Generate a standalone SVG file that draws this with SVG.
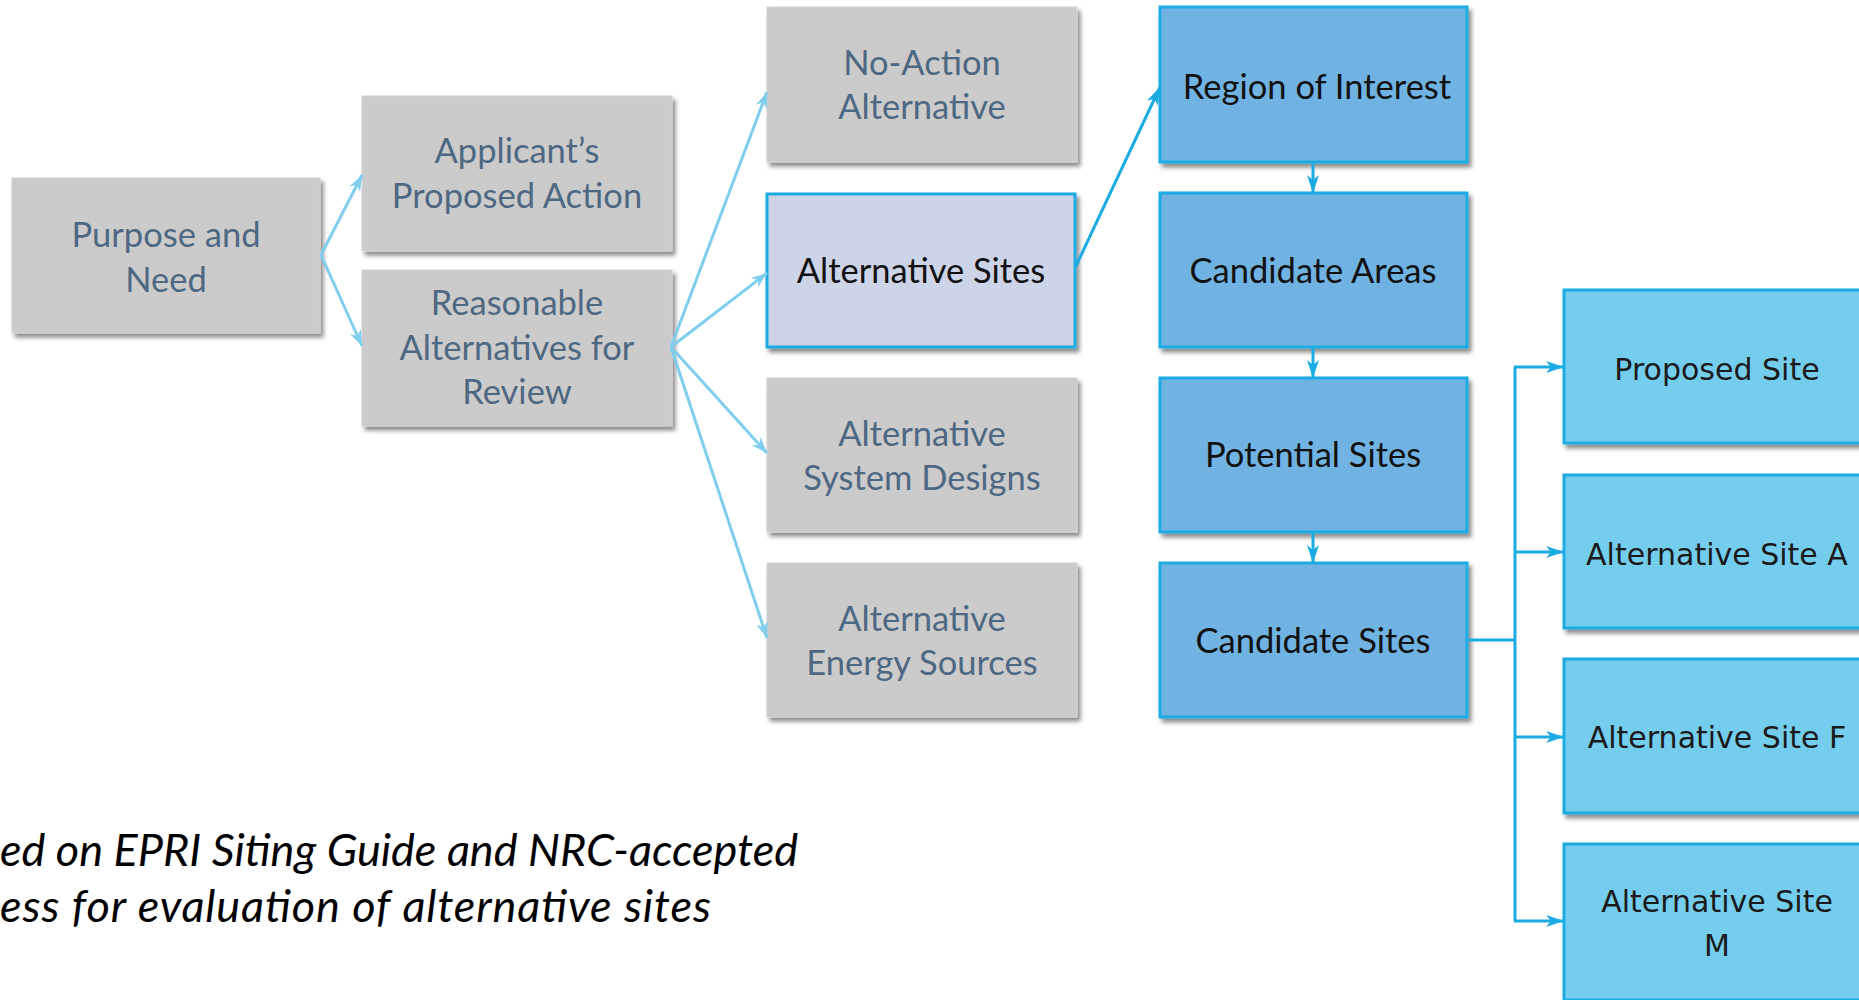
<svg xmlns="http://www.w3.org/2000/svg" width="1859" height="1000" viewBox="0 0 1859 1000">
<defs>
<filter id="sh" x="-10%" y="-10%" width="125%" height="130%">
<feDropShadow dx="3" dy="4" stdDeviation="2" flood-color="#000" flood-opacity="0.45"/>
</filter>
<marker id="al" markerUnits="userSpaceOnUse" markerWidth="18" markerHeight="14" refX="16" refY="7" orient="auto">
<path d="M0,1 L16,7 L0,13 L5,7 Z" fill="#80CEEE"/>
</marker>
<marker id="ad" markerUnits="userSpaceOnUse" markerWidth="20" markerHeight="14" refX="18" refY="7" orient="auto">
<path d="M0,1 L18,7 L0,13 L5,7 Z" fill="#1AABE2"/>
</marker>
</defs>
<style>
.g rect{fill:#CBCBCB;stroke:#D2D2D2;stroke-width:1;filter:url(#sh)}
.g text{fill:#4F6882;font-family:Lato,"Open Sans",sans-serif;font-size:34.5px;text-anchor:middle}
.s rect{fill:#CDD4E7;stroke:#1CACE3;stroke-width:3;filter:url(#sh)}
.b rect{fill:#70B3E3;stroke:#1CACE3;stroke-width:3;filter:url(#sh)}
.c rect{fill:#75CDEE;stroke:#1CACE3;stroke-width:3;filter:url(#sh)}
.s text,.b text{fill:#111;font-family:Lato,"Open Sans",sans-serif;font-size:34.5px;text-anchor:middle}
.c text{fill:#1a1a1a;font-family:"DejaVu Sans",Verdana,sans-serif;font-size:30px;text-anchor:middle}
.lc{stroke:#80CEEE;stroke-width:3;fill:none;marker-end:url(#al)}
.dc{stroke:#1AABE2;stroke-width:3;fill:none}
.da{marker-end:url(#ad)}
.cap{fill:#000;font-family:Lato,"Open Sans",sans-serif;font-style:italic;font-size:45px}
</style>
<g id="n-purpose" class="g"><rect x="12" y="178" width="308" height="155"/><text x="166" y="247">Purpose and</text><text x="166" y="292">Need</text></g>
<g id="n-applicant" class="g"><rect x="362" y="96" width="310" height="155"/><text x="517" y="163">Applicant’s</text><text x="517" y="208">Proposed Action</text></g>
<g id="n-reasonable" class="g"><rect x="362" y="270" width="310" height="156"/><text x="517" y="315">Reasonable</text><text x="517" y="360">Alternatives for</text><text x="517" y="404">Review</text></g>
<g id="n-noaction" class="g"><rect x="767" y="7" width="310" height="155"/><text x="922" y="75">No-Action</text><text x="922" y="119">Alternative</text></g>
<g id="n-altsites" class="s"><rect x="767" y="194" width="308" height="153"/><text x="921" y="283">Alternative Sites</text></g>
<g id="n-sysdesign" class="g"><rect x="767" y="378" width="310" height="154"/><text x="922" y="446">Alternative</text><text x="922" y="490">System Designs</text></g>
<g id="n-energy" class="g"><rect x="767" y="563" width="310" height="154"/><text x="922" y="631">Alternative</text><text x="922" y="675">Energy Sources</text></g>
<g id="n-region" class="b"><rect x="1160" y="7" width="307" height="155"/><text x="1317" y="99">Region of Interest</text></g>
<g id="n-candareas" class="b"><rect x="1160" y="193" width="307" height="154"/><text x="1313" y="283">Candidate Areas</text></g>
<g id="n-potential" class="b"><rect x="1160" y="378" width="307" height="154"/><text x="1313" y="467">Potential Sites</text></g>
<g id="n-candsites" class="b"><rect x="1160" y="563" width="307" height="154"/><text x="1313" y="653">Candidate Sites</text></g>
<g id="n-proposed" class="c"><rect x="1564" y="290" width="306" height="153"/><text x="1717" y="380">Proposed Site</text></g>
<g id="n-sitea" class="c"><rect x="1564" y="475" width="306" height="153"/><text x="1717" y="565">Alternative Site A</text></g>
<g id="n-sitef" class="c"><rect x="1564" y="659" width="306" height="154"/><text x="1717" y="748">Alternative Site F</text></g>
<g id="n-sitem" class="c"><rect x="1564" y="844" width="306" height="156"/><text x="1717" y="912">Alternative Site</text><text x="1717" y="956">M</text></g>
<g id="connectors">
<path class="lc" d="M321,255 L362,175"/>
<path class="lc" d="M321,255 L362,346"/>
<path class="lc" d="M671,347 L767,92"/>
<path class="lc" d="M671,347 L767,273"/>
<path class="lc" d="M671,347 L767,453"/>
<path class="lc" d="M671,347 L767,638"/>
<path class="dc da" d="M1076,266 L1160,87"/>
<path class="dc da" d="M1313,162 L1313,193"/>
<path class="dc da" d="M1313,347 L1313,378"/>
<path class="dc da" d="M1313,532 L1313,563"/>
<path class="dc" d="M1467,640 L1515,640 M1515,367 L1515,921"/>
<path class="dc da" d="M1514,367 L1564,367"/>
<path class="dc da" d="M1514,552 L1564,552"/>
<path class="dc da" d="M1514,737 L1564,737"/>
<path class="dc da" d="M1514,921 L1564,921"/>
</g>
<g id="caption">
<text class="cap" x="0" y="866" textLength="798">ed on EPRI Siting Guide and NRC-accepted</text>
<text class="cap" x="0" y="922" textLength="711">ess for evaluation of alternative sites</text>
</g>
</svg>
